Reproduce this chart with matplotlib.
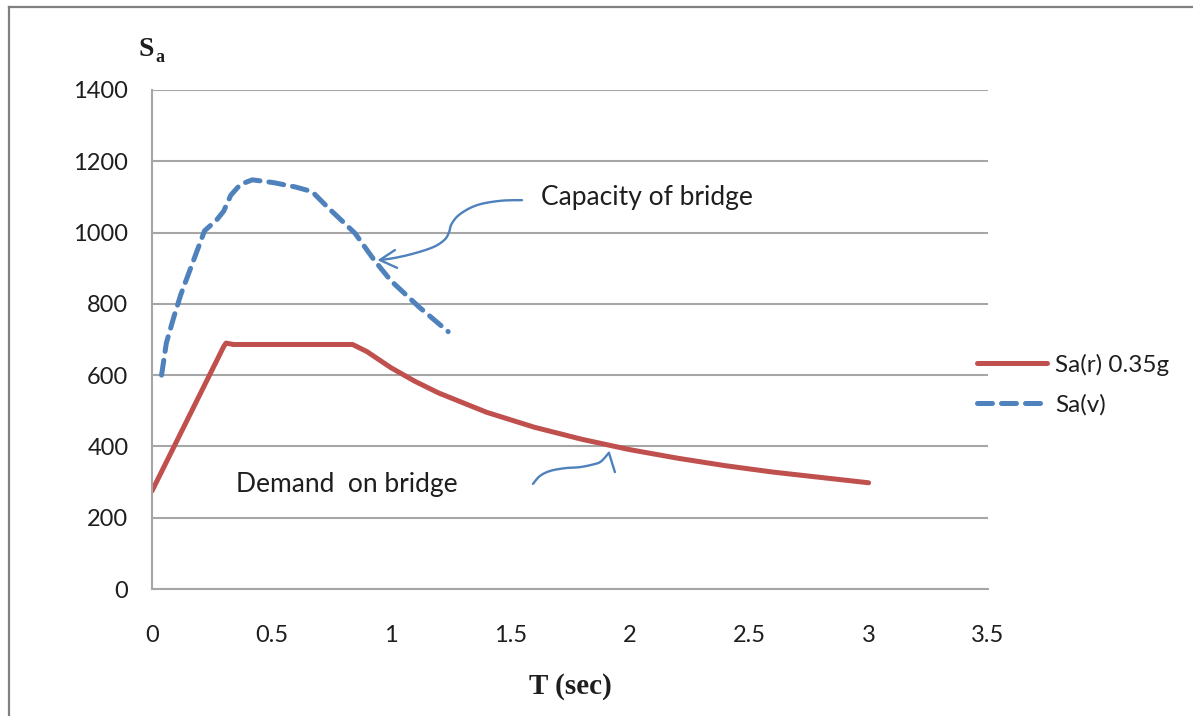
import matplotlib
matplotlib.use("Agg")
import matplotlib.pyplot as plt
from matplotlib.lines import Line2D
import numpy as np

# Demand spectrum Sa(r) for 0.35g
t_demand = [0.0, 0.10, 0.20, 0.30, 0.31, 0.34, 0.50, 0.70, 0.84, 0.90, 1.00, 1.10, 1.20,
            1.40, 1.60, 1.80, 2.00, 2.20, 2.40, 2.60, 2.80, 3.00]
sa_demand = [275, 410, 545, 680, 690, 686, 686, 686, 686, 666, 621, 583, 550,
             496, 454, 420, 391, 367, 346, 328, 313, 298]

# Capacity curve Sa(v)
t_capacity = [0.04, 0.06, 0.09, 0.12, 0.17, 0.22, 0.27, 0.30, 0.33, 0.37, 0.42, 0.51,
              0.60, 0.67, 0.74, 0.80, 0.85, 0.93, 1.00, 1.12, 1.24]
sa_capacity = [600, 690, 760, 825, 915, 1005, 1035, 1060, 1105, 1135, 1148, 1140,
               1128, 1115, 1068, 1030, 998, 923, 865, 790, 722]

series_labels = ["Sa(r) 0.35g", "Sa(v)"]
x_ticks = [0, 0.5, 1, 1.5, 2, 2.5, 3, 3.5]
x_tick_labels = ["0", "0.5", "1", "1.5", "2", "2.5", "3", "3.5"]
y_ticks = [0, 200, 400, 600, 800, 1000, 1200, 1400]

RED = "#C0504D"
BLUE = "#4F81BD"
GRID = "#A6A6A6"
INK = "#1E1E1E"
FONT = "Lato"


def smooth_stroke(xs, ys, n=12):
    """Catmull-Rom pass through the control points of a freehand stroke."""
    p = np.column_stack([xs, ys]).astype(float)
    p = np.vstack([p[0], p, p[-1]])
    out = []
    for i in range(1, len(p) - 2):
        p0, p1, p2, p3 = p[i - 1], p[i], p[i + 1], p[i + 2]
        for s in np.linspace(0, 1, n, endpoint=False):
            out.append(0.5 * ((2 * p1) + (-p0 + p2) * s
                              + (2 * p0 - 5 * p1 + 4 * p2 - p3) * s ** 2
                              + (-p0 + 3 * p1 - 3 * p2 + p3) * s ** 3))
    out.append(p[-2])
    out = np.array(out)
    return out[:, 0], out[:, 1]


W, H = 1193, 716
fig = plt.figure(figsize=(W / 100, H / 100), dpi=100)
fig.patch.set_facecolor("white")

ax = fig.add_axes([152 / W, (H - 589) / H, 836 / W, 499 / H])
ax.set_xlim(0, 3.5)
ax.set_ylim(0, 1400)

ax.set_xticks(x_ticks)
ax.set_xticklabels(x_tick_labels)
ax.set_yticks(y_ticks)
ax.tick_params(axis="both", length=0, labelsize=17, colors=INK)
ax.tick_params(axis="y", pad=17)
ax.tick_params(axis="x", pad=26)
for lab in ax.get_xticklabels() + ax.get_yticklabels():
    lab.set_fontfamily(FONT)

ax.grid(axis="y", color=GRID, linewidth=1.5)
ax.set_axisbelow(True)
for side in ("top", "right"):
    ax.spines[side].set_visible(False)
for side in ("left", "bottom"):
    ax.spines[side].set_color(GRID)
    ax.spines[side].set_linewidth(1.5)

ax.plot(t_demand, sa_demand, color=RED, linewidth=3.6, solid_capstyle="round",
        solid_joinstyle="round", label=series_labels[0])
ax.plot(t_capacity, sa_capacity, color=BLUE, linewidth=3.6, linestyle=(0, (3.0, 1.8)),
        dash_capstyle="round", dash_joinstyle="round", label=series_labels[1])

# Hand-drawn arrows
cap_arrow_t = [1.549, 1.457, 1.361, 1.290, 1.255, 1.243, 1.225, 1.180, 1.100, 1.017, 0.954]
cap_arrow_s = [1091, 1089, 1077, 1052, 1025, 1000, 980, 960, 942, 929, 923]
sx, sy = smooth_stroke(cap_arrow_t, cap_arrow_s)
ax.plot(sx, sy, color=BLUE, linewidth=1.7, solid_capstyle="round")
ax.plot([1.017, 0.954, 1.026], [951, 923, 901], color=BLUE, linewidth=1.7,
        solid_capstyle="round", solid_joinstyle="round")

dem_arrow_t = [1.595, 1.624, 1.666, 1.729, 1.792, 1.850, 1.880, 1.913]
dem_arrow_s = [295, 317, 331, 339, 342, 350, 358, 382]
sx, sy = smooth_stroke(dem_arrow_t, dem_arrow_s)
ax.plot(sx, sy, color=BLUE, linewidth=1.7, solid_capstyle="round")
ax.plot([1.913, 1.938], [382, 328], color=BLUE, linewidth=1.7, solid_capstyle="round")

ax.text(1.629, 1097, "Capacity of bridge", fontsize=19, fontfamily=FONT,
        color=INK, va="center", ha="left")
ax.text(0.352, 292, "Demand  on bridge", fontsize=19, fontfamily=FONT,
        color=INK, va="center", ha="left")

# Axis titles
fig.text(570 / W, 1 - 687 / H, "T (sec)", fontsize=21, fontfamily="Liberation Serif",
         fontweight="bold", ha="center", va="center", color=INK)
fig.text(146 / W, 1 - 49 / H, "S", fontsize=20, fontfamily="Liberation Serif",
         fontweight="bold", ha="center", va="center", color=INK)
fig.text(160 / W, 1 - 58 / H, "a", fontsize=13, fontfamily="Liberation Serif",
         fontweight="bold", ha="center", va="center", color=INK)

leg = fig.legend(loc="center left", bbox_to_anchor=(977 / W, 1 - 384.5 / H),
                 frameon=False, prop={"family": FONT, "size": 17.5},
                 handlelength=2.9, handletextpad=0.3, labelspacing=0.75,
                 borderpad=0, borderaxespad=0)
for txt in leg.get_texts():
    txt.set_color(INK)

# Outer chart frame
fig.add_artist(Line2D([8.5 / W, 8.5 / W], [0, 1 - 7 / H], transform=fig.transFigure,
                      color="#808080", linewidth=1.6))
fig.add_artist(Line2D([8.5 / W, 1], [1 - 7 / H, 1 - 7 / H], transform=fig.transFigure,
                      color="#808080", linewidth=1.6))

fig.savefig("out.png", dpi=100, facecolor="white")
